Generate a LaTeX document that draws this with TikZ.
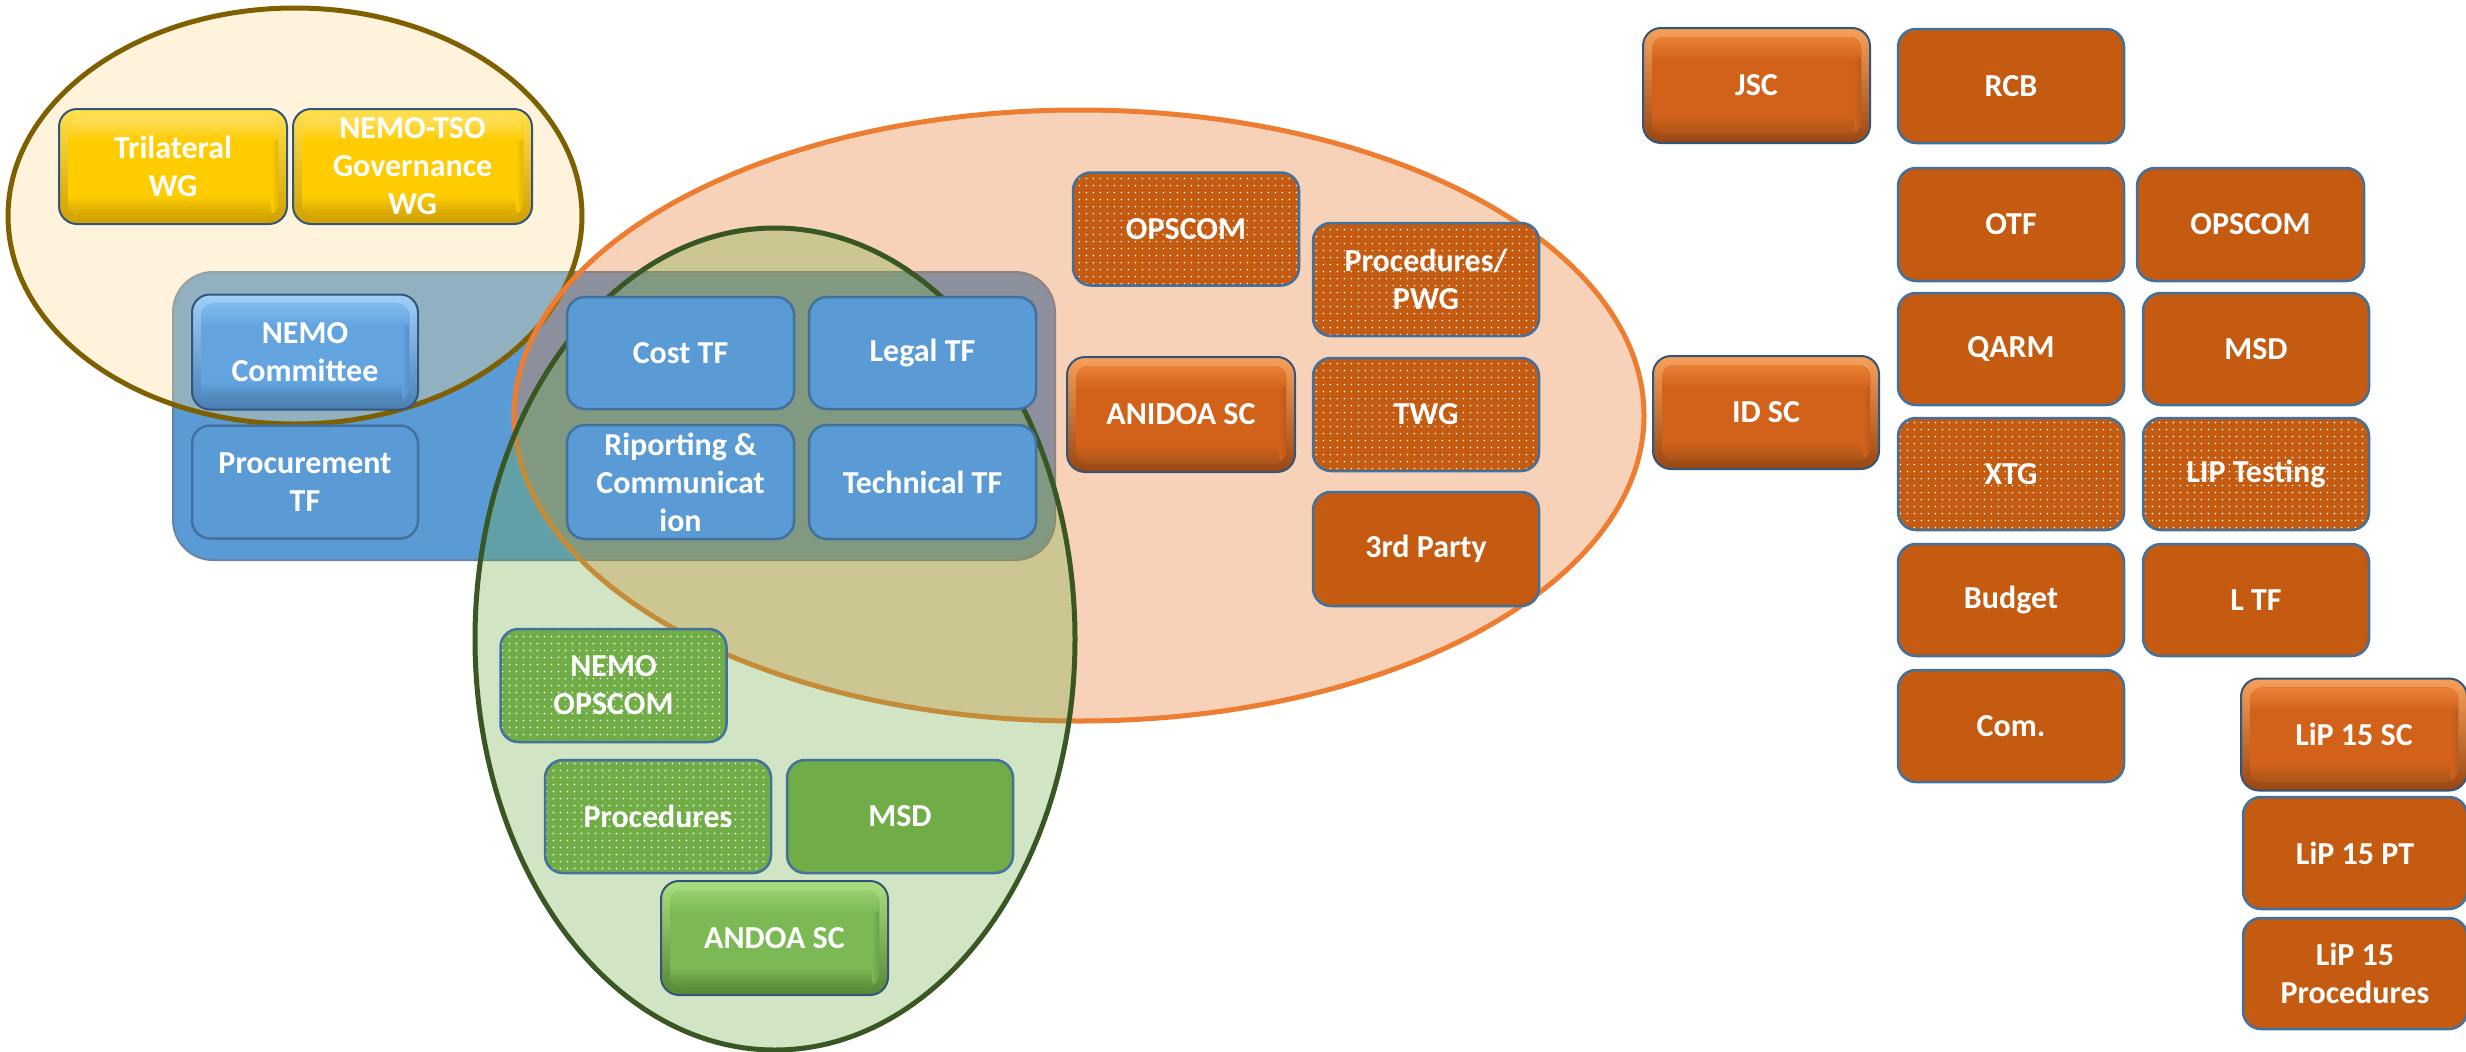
\documentclass[tikz,border=0pt]{standalone}
\usepackage{fontspec}
\setmainfont{Carlito}
\usetikzlibrary{calc,patterns.meta,shapes.geometric}

\definecolor{bluebox}{HTML}{5B9BD5}
\definecolor{boxline}{HTML}{41719C}
\definecolor{orangebox}{HTML}{C55A11}
\definecolor{greenbox}{HTML}{70AD47}
\definecolor{grpline}{HTML}{6485A6}
\definecolor{ellY}{HTML}{FFDC98}
\definecolor{ellYline}{HTML}{7F6000}
\definecolor{ellO}{HTML}{ED7D31}
\definecolor{ellG}{HTML}{70AD47}
\definecolor{ellGline}{HTML}{385723}
\definecolor{bevline}{HTML}{34557A}
% bevel colour sets
\definecolor{gRimT}{HTML}{FFE14D}\definecolor{gRimB}{HTML}{D0A000}\definecolor{gFace}{HTML}{FFCC00}\definecolor{gHl}{HTML}{FFE680}\definecolor{gSh}{HTML}{C09508}
\definecolor{bRimT}{HTML}{9FD0FA}\definecolor{bRimB}{HTML}{4A80B5}\definecolor{bFace}{HTML}{62A3E0}\definecolor{bHl}{HTML}{8CC4F2}\definecolor{bSh}{HTML}{45739F}
\definecolor{oRimT}{HTML}{F6A05A}\definecolor{oRimB}{HTML}{9A4612}\definecolor{oFace}{HTML}{D2621A}\definecolor{oHl}{HTML}{F28D42}\definecolor{oSh}{HTML}{98501A}
\definecolor{vRimT}{HTML}{A9E07F}\definecolor{vRimB}{HTML}{558735}\definecolor{vFace}{HTML}{7AB953}\definecolor{vHl}{HTML}{A3DA7A}\definecolor{vSh}{HTML}{537F35}

\newcommand\bevelpp[5]{%
  \fill[draw=none, sharp corners, top color=#1, bottom color=#2]
    (path picture bounding box.south west) rectangle (path picture bounding box.north east);
  \begin{scope}
    \clip[rounded corners=12pt] ($(path picture bounding box.north west)+(9pt,-9pt)$)
      rectangle ($(path picture bounding box.south east)+(-9pt,9pt)$);
    \fill[draw=none, #3] (path picture bounding box.south west) rectangle (path picture bounding box.north east);
    \fill[draw=none, top color=#3, bottom color=#5] ($(path picture bounding box.south west)+(0pt,28pt)$)
      rectangle (path picture bounding box.south east);
    \fill[draw=none, left color=#3, right color=#5] ($(path picture bounding box.north east)+(-16pt,0pt)$)
      rectangle (path picture bounding box.south east);
    \fill[draw=none, top color=#4, bottom color=#3] (path picture bounding box.north west)
      rectangle ($(path picture bounding box.north east)+(0pt,-32pt)$);
  \end{scope}
}

\tikzset{
  lbl/.style={text=white, font=\bfseries\fontsize{32}{38}\selectfont, align=center, inner sep=0pt},
  box/.style={lbl, rectangle, rounded corners=18pt, draw=boxline, line width=2.5pt, fill=#1,
    minimum width=226pt, minimum height=113pt},
  dotbox/.style={lbl, rectangle, rounded corners=18pt, draw=boxline, line width=2.5pt,
    preaction={fill=#1}, pattern={Dots[distance=7.4pt,radius=0.95pt]}, pattern color=white,
    minimum width=226pt, minimum height=113pt},
  bevel/.style n args={5}{lbl, rectangle, rounded corners=18pt, draw=bevline, line width=2pt,
    fill=#3, minimum width=228pt, minimum height=115pt,
    path picture={\bevelpp{#1}{#2}{#3}{#4}{#5}}},
  goldbevel/.style={bevel={gRimT}{gRimB}{gFace}{gHl}{gSh}},
  bluebevel/.style={bevel={bRimT}{bRimB}{bFace}{bHl}{bSh}},
  orangebevel/.style={bevel={oRimT}{oRimB}{oFace}{oHl}{oSh}},
  greenbevel/.style={bevel={vRimT}{vRimB}{vFace}{vHl}{vSh}},
  region/.style={ellipse, inner sep=0pt, line width=5pt, fill opacity=#1},
}

\begin{document}
\begin{tikzpicture}[x=1pt,y=-1pt]
\useasboundingbox (0,0) rectangle (2466,1052);
\fill[white] (0,0) rectangle (2466,1052);

% task-force group container
\node[rectangle, rounded corners=40pt, draw=grpline, line width=2pt, fill=bluebox,
  minimum width=882pt, minimum height=288pt] (tfgroup) at (614,416) {};

% overlapping regions
\node[region=0.34, draw=ellYline, fill=ellY, minimum width=574pt, minimum height=416pt] (regY) at (295,216) {};
\node[region=0.34, draw=ellO, fill=ellO, minimum width=1130pt, minimum height=611pt] (regO) at (1079,415.5) {};
\node[region=0.32, draw=ellGline, fill=ellG, minimum width=600pt, minimum height=822pt] (regG) at (775,639) {};

% yellow
\node[goldbevel] (tri) at (173,166.5) {Trilateral\\WG};
\node[goldbevel, minimum width=239pt] (nts) at (412.5,166.5) {NEMO-TSO\\Governance\\WG};

% blue
\node[bluebevel, minimum width=226pt] (nemo) at (305,352) {NEMO\\Committee};
\node[box=bluebox] (proc) at (305,482) {Procurement\\TF};
\node[box=bluebox, minimum width=227pt, minimum height=112pt] (cost) at (680.5,353) {Cost TF};
\node[box=bluebox, minimum width=227pt, minimum height=112pt] (legal) at (922.5,353) {Legal TF};
\node[box=bluebox, minimum width=227pt, minimum height=114pt] (ripo) at (680.5,482) {Riporting \&\\Communicat\\ion};
\node[box=bluebox, minimum width=227pt, minimum height=114pt] (tech) at (922.5,482) {Technical TF};

% orange region
\node[dotbox=orangebox] (opsA) at (1186,229) {OPSCOM};
\node[dotbox=orangebox] (pwg) at (1426,279.5) {Procedures/\\PWG};
\node[orangebevel] (anidoa) at (1181,414.5) {ANIDOA SC};
\node[dotbox=orangebox] (twg) at (1426,414.5) {TWG};
\node[box=orangebox, minimum height=114pt] (third) at (1426,549) {3rd Party};

% green region
\node[dotbox=greenbox] (nops) at (613.5,685.5) {NEMO\\OPSCOM};
\node[dotbox=greenbox] (gproc) at (658,816.5) {Procedures};
\node[box=greenbox] (gmsd) at (900,816.5) {MSD};
\node[greenbevel, minimum width=227pt, minimum height=114pt] (andoa) at (774.5,938) {ANDOA SC};

% right-hand structure
\node[orangebevel, minimum width=227pt] (jsc) at (1756.5,85.5) {JSC};
\node[box=orangebox, minimum height=114pt] (rcb) at (2011,86) {RCB};
\node[box=orangebox] (otf) at (2011,224.5) {OTF};
\node[box=orangebox, minimum width=227pt] (opsB) at (2250.5,224.5) {OPSCOM};
\node[box=orangebox, minimum height=112pt] (qarm) at (2011,349) {QARM};
\node[box=orangebox, minimum height=112pt] (msd) at (2256,349) {MSD};
\node[orangebevel, minimum width=226pt, minimum height=113pt] (idsc) at (1766,412.5) {ID SC};
\node[dotbox=orangebox, minimum height=112pt] (xtg) at (2011,474) {XTG};
\node[dotbox=orangebox, minimum height=112pt] (lip) at (2256,474) {LIP Testing};
\node[box=orangebox, minimum height=112pt] (budget) at (2011,600) {Budget};
\node[box=orangebox, minimum height=112pt] (ltf) at (2256,600) {L TF};
\node[box=orangebox, minimum height=112pt] (com) at (2011,726) {Com.};
\node[orangebevel, minimum width=226pt, minimum height=112pt] (lipsc) at (2354,734.5) {LiP 15 SC};
\node[box=orangebox, minimum width=224pt, minimum height=112pt] (lippt) at (2355,853) {LiP 15 PT};
\node[box=orangebox, minimum width=224pt, minimum height=111pt] (lipproc) at (2355,973.5) {LiP 15\\Procedures};
\end{tikzpicture}
\end{document}
